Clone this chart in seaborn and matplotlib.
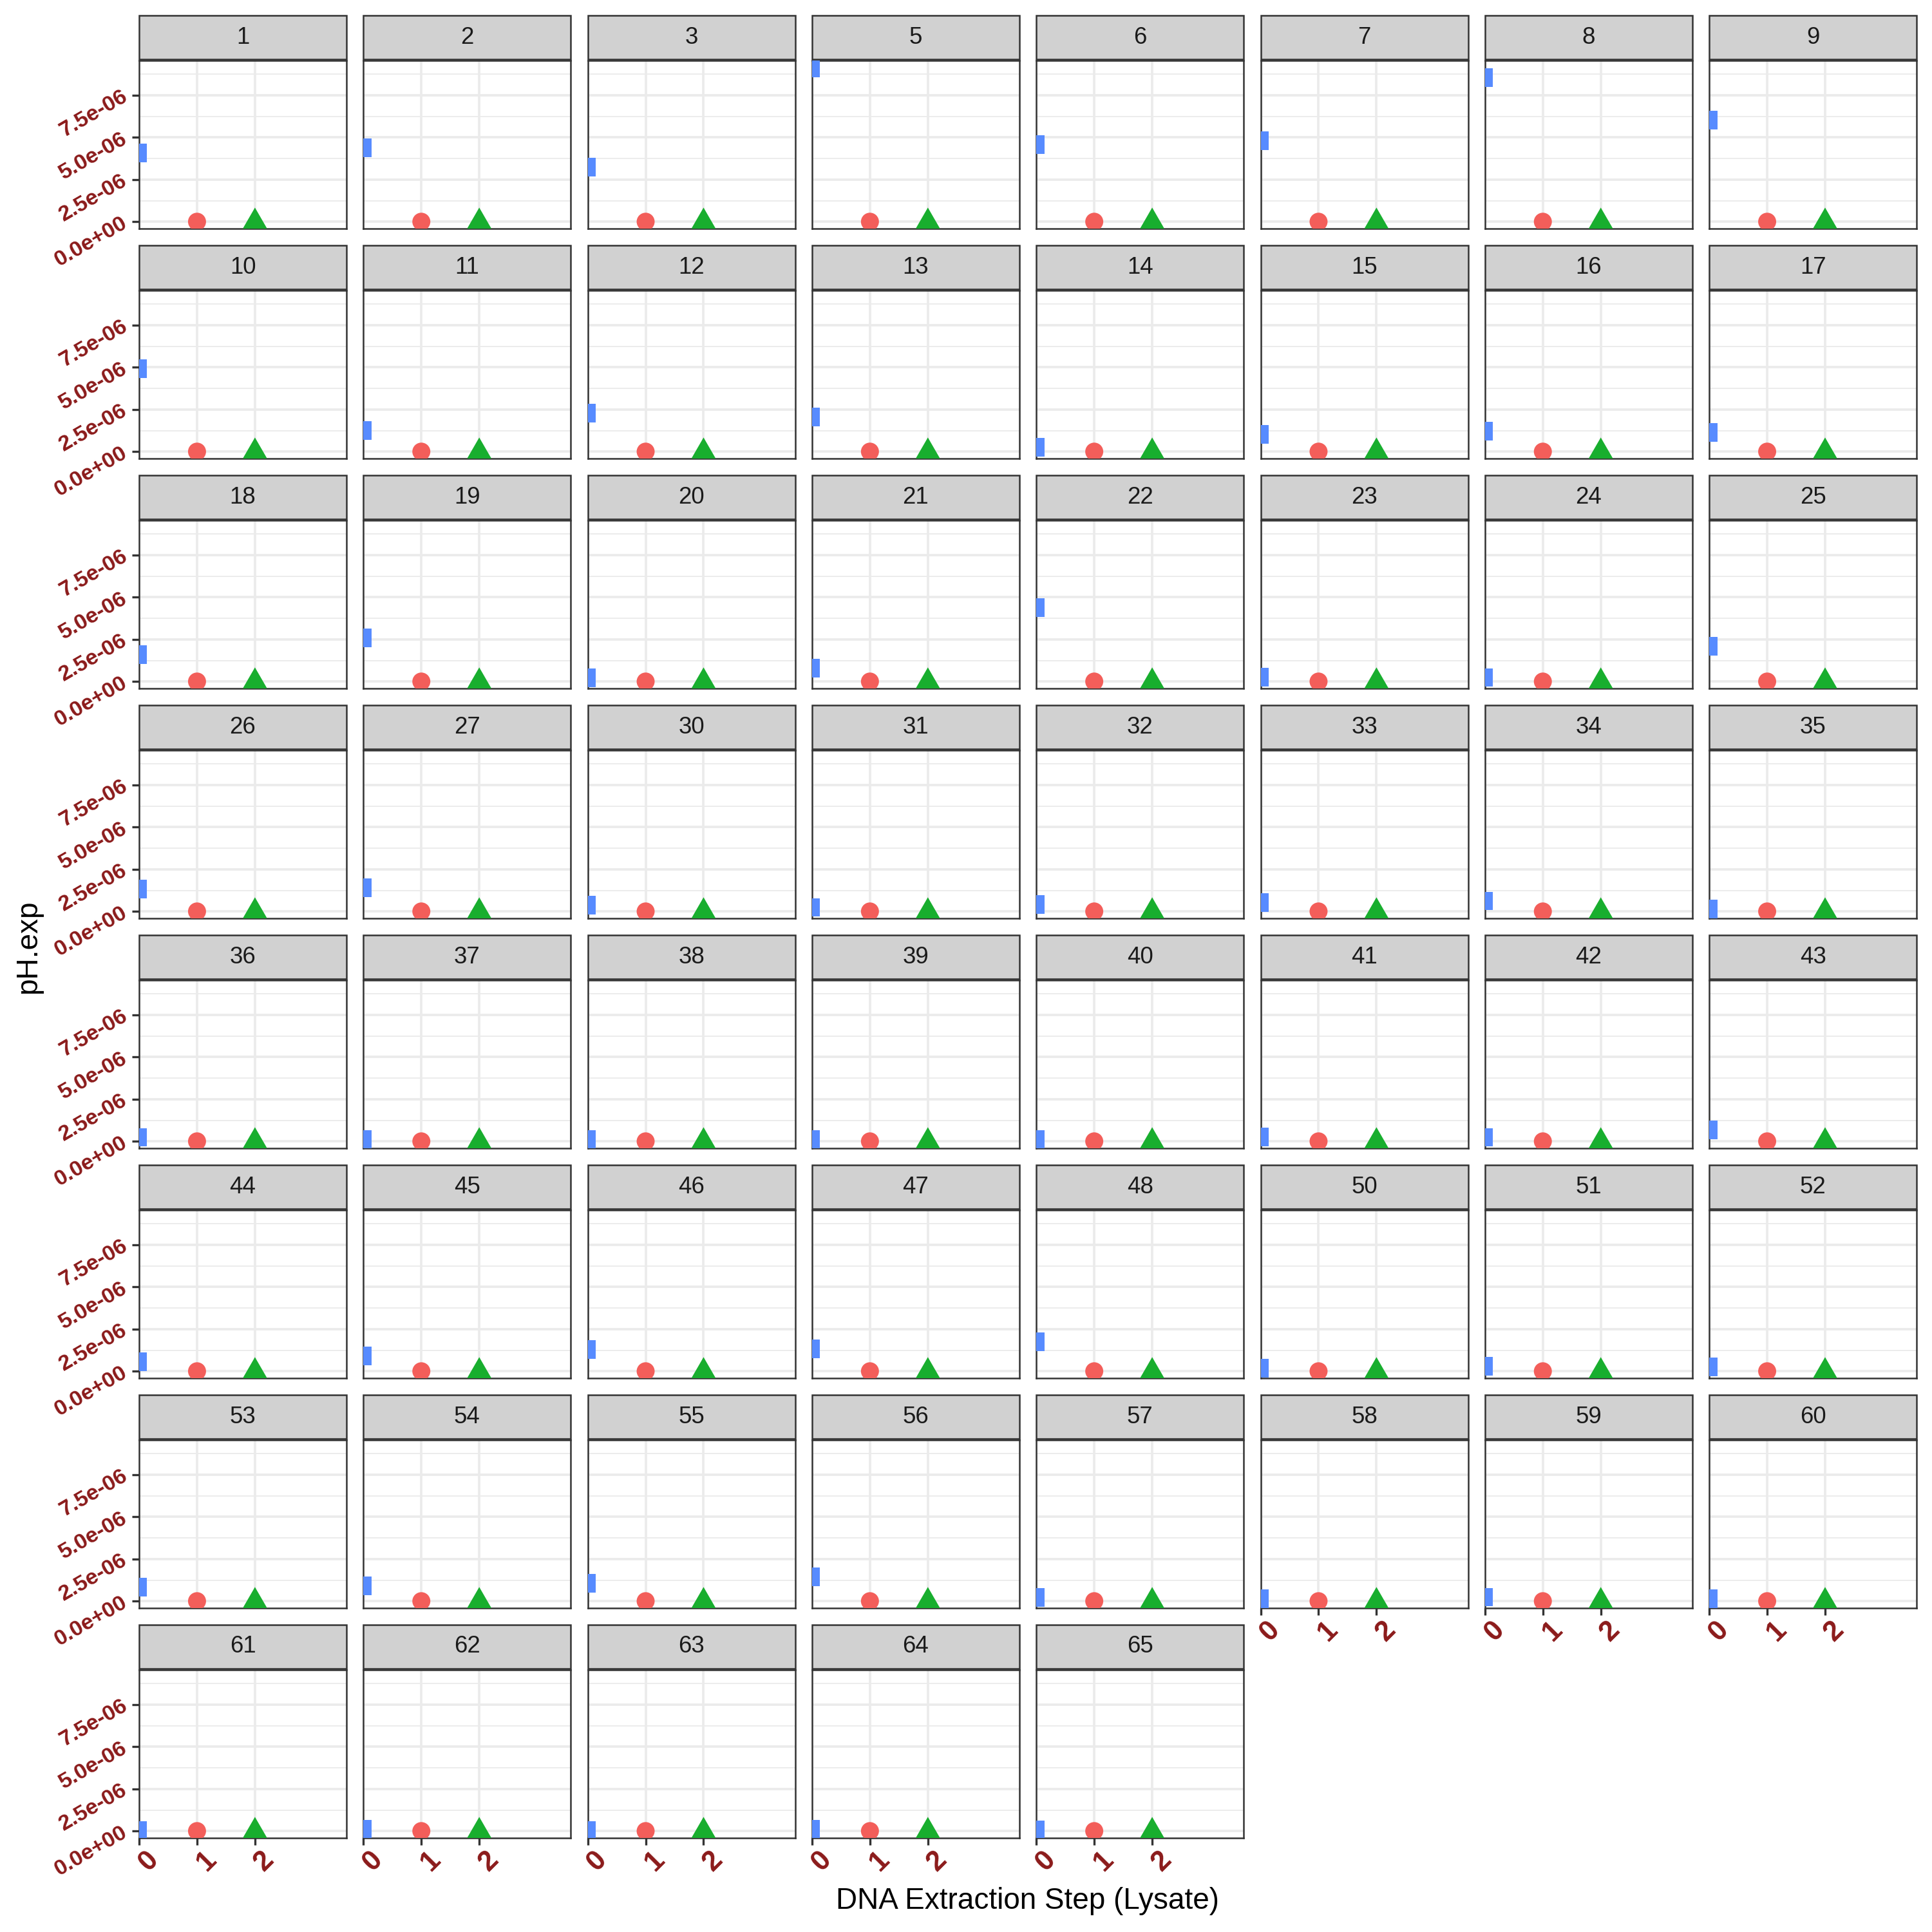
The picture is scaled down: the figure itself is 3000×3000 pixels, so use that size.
import numpy as np
import pandas as pd
import matplotlib
matplotlib.use("Agg")
import matplotlib.pyplot as plt
from matplotlib.markers import MarkerStyle
from matplotlib.patches import Rectangle
from matplotlib.ticker import MultipleLocator
import seaborn as sns

# facet ids, in panel order
samples = [1, 2, 3, 5, 6, 7, 8, 9,
           10, 11, 12, 13, 14, 15, 16, 17,
           18, 19, 20, 21, 22, 23, 24, 25,
           26, 27, 30, 31, 32, 33, 34, 35,
           36, 37, 38, 39, 40, 41, 42, 43,
           44, 45, 46, 47, 48, 50, 51, 52,
           53, 54, 55, 56, 57, 58, 59, 60,
           61, 62, 63, 64, 65]

# pH.exp for each extraction step, units of 1e-6
lysate = [4.09, 4.37, 3.25, 9.10, 4.57, 4.81, 8.55, 6.03,
          4.93, 1.26, 2.27, 2.07, 0.27, 1.02, 1.21, 1.13,
          1.59, 2.58, 0.22, 0.80, 4.39, 0.26, 0.24, 2.08,
          1.32, 1.39, 0.37, 0.24, 0.40, 0.51, 0.62, 0.15,
          0.24, 0.11, 0.11, 0.11, 0.11, 0.27, 0.24, 0.69,
          0.55, 0.91, 1.28, 1.32, 1.74, 0.18, 0.29, 0.27,
          0.84, 0.91, 1.06, 1.43, 0.22, 0.16, 0.24, 0.15,
          0.05, 0.11, 0.02, 0.11, 0.07]
step1 = [0.0, 0.0, 0.0, 0.0, 0.0, 0.0, 0.0, 0.0,
         0.0, 0.0, 0.0, 0.0, 0.0, 0.0, 0.0, 0.0,
         0.0, 0.0, 0.0, 0.0, 0.0, 0.0, 0.0, 0.0,
         0.0, 0.0, 0.0, 0.0, 0.0, 0.0, 0.0, 0.0,
         0.0, 0.0, 0.0, 0.0, 0.0, 0.0, 0.0, 0.0,
         0.0, 0.0, 0.0, 0.0, 0.0, 0.0, 0.0, 0.0,
         0.0, 0.0, 0.0, 0.0, 0.0, 0.0, 0.0, 0.0,
         0.0, 0.0, 0.0, 0.0, 0.0]
step2 = [0.0, 0.0, 0.0, 0.0, 0.0, 0.0, 0.0, 0.0,
         0.0, 0.0, 0.0, 0.0, 0.0, 0.0, 0.0, 0.0,
         0.0, 0.0, 0.0, 0.0, 0.0, 0.0, 0.0, 0.0,
         0.0, 0.0, 0.0, 0.0, 0.0, 0.0, 0.0, 0.0,
         0.0, 0.0, 0.0, 0.0, 0.0, 0.0, 0.0, 0.0,
         0.0, 0.0, 0.0, 0.0, 0.0, 0.0, 0.0, 0.0,
         0.0, 0.0, 0.0, 0.0, 0.0, 0.0, 0.0, 0.0,
         0.0, 0.0, 0.0, 0.0, 0.0]

steps = [0, 1, 2]
x_ticks = [0, 1, 2]
x_tick_labels = ["0", "1", "2"]
y_ticks = [0.0, 2.5e-6, 5.0e-6, 7.5e-6]
y_tick_labels = ["0.0e+00", "2.5e-06", "5.0e-06", "7.5e-06"]

rows = []
for s, a, b, c in zip(samples, lysate, step1, step2):
    for st, v in zip(steps, (a, b, c)):
        rows.append({"sample": s, "step": st, "kind": str(st), "value": v * 1e-6})
df = pd.DataFrame(rows)

kinds = ["0", "1", "2"]
palette = {"0": "#578BFF", "1": "#F35E5A", "2": "#18AE2E"}
rect = np.array([(-0.43, -0.5), (0.43, -0.5), (0.43, 0.5), (-0.43, 0.5), (-0.43, -0.5)])
tri = np.array([(0, 0.577), (-0.5, -0.2887), (0.5, -0.2887), (0, 0.577)])
markers = {"0": MarkerStyle(rect), "1": MarkerStyle("o"), "2": MarkerStyle(tri)}
sizes = {"0": 48, "1": 45, "2": 111}

sns.set_style("white")
plt.rcParams["font.family"] = ["Liberation Sans", "DejaVu Sans"]

dark_red = "#8B1A1A"
edge = "#333333"
grid_col = "#EBEBEB"


def draw_panel(data, **kws):
    sns.scatterplot(data=data, x="step", y="value", hue="kind", style="kind",
                    size="kind", hue_order=kinds, style_order=kinds,
                    size_order=kinds, palette=palette, markers=markers,
                    sizes=sizes, linewidth=0, legend=False, ax=plt.gca(),
                    zorder=3)


g = sns.FacetGrid(df, col="sample", col_order=samples, col_wrap=8,
                  sharex=True, sharey=True, height=1.2, aspect=1.2,
                  despine=False)
g.map_dataframe(draw_panel)

fig = g.figure
fig.set_size_inches(10, 10)

n = len(samples)
W = 3000.0
for i, s in enumerate(samples):
    ax = g.axes_dict[s]
    r, c = divmod(i, 8)
    is_bottom = i + 8 >= n
    is_left = c == 0
    left = (216 + c * 348.3) / W
    bottom = 1 - (94 + r * 357 + 261) / W
    ax.set_position([left, bottom, 322 / W, 261 / W])

    ax.set_xlim(0, 3.58)
    ax.set_ylim(-0.41e-6, 9.56e-6)
    ax.set_title("")
    ax.set_xlabel("")
    ax.set_ylabel("")
    ax.set_axisbelow(True)

    ax.set_xticks(x_ticks, labels=x_tick_labels, rotation=45,
                  rotation_mode="anchor", ha="center", va="top",
                  fontweight="bold", fontsize=10.5, color=dark_red)
    ax.set_yticks(y_ticks, labels=y_tick_labels, rotation=30,
                  rotation_mode="anchor", ha="right", va="center",
                  fontweight="bold", fontsize=8.2, color=dark_red)
    ax.yaxis.set_minor_locator(MultipleLocator(1.25e-6))
    ax.grid(which="major", color=grid_col, lw=0.9)
    ax.grid(which="minor", axis="y", color=grid_col, lw=0.45)

    ax.tick_params(axis="x", which="major", bottom=is_bottom,
                   labelbottom=is_bottom, length=2.75, width=0.8,
                   color=edge, pad=2.4)
    ax.tick_params(axis="y", which="major", left=is_left,
                   labelleft=is_left, length=2.75, width=0.8,
                   color=edge, pad=2.2)
    ax.tick_params(which="minor", length=0)

    for sp in ax.spines.values():
        sp.set_visible(True)
        sp.set_color(edge)
        sp.set_linewidth(0.6)

    # facet strip
    ax.add_patch(Rectangle((0, 1 + 2 / 261), 1, 68 / 261,
                           transform=ax.transAxes, facecolor="#D1D1D1",
                           edgecolor=edge, lw=0.6, clip_on=False))
    ax.text(0.5, 1 + 36 / 261, str(s), transform=ax.transAxes,
            ha="center", va="center", fontsize=8.8, color="#1A1A1A")

fig.text(0.532, 0.016, "DNA Extraction Step (Lysate)", ha="center",
         va="center", fontsize=11, color="black")
fig.text(0.0147, 0.51, "pH.exp", ha="center", va="center", rotation=90,
         fontsize=11, color="black")

fig.savefig("out.png", dpi=300, facecolor="white")
